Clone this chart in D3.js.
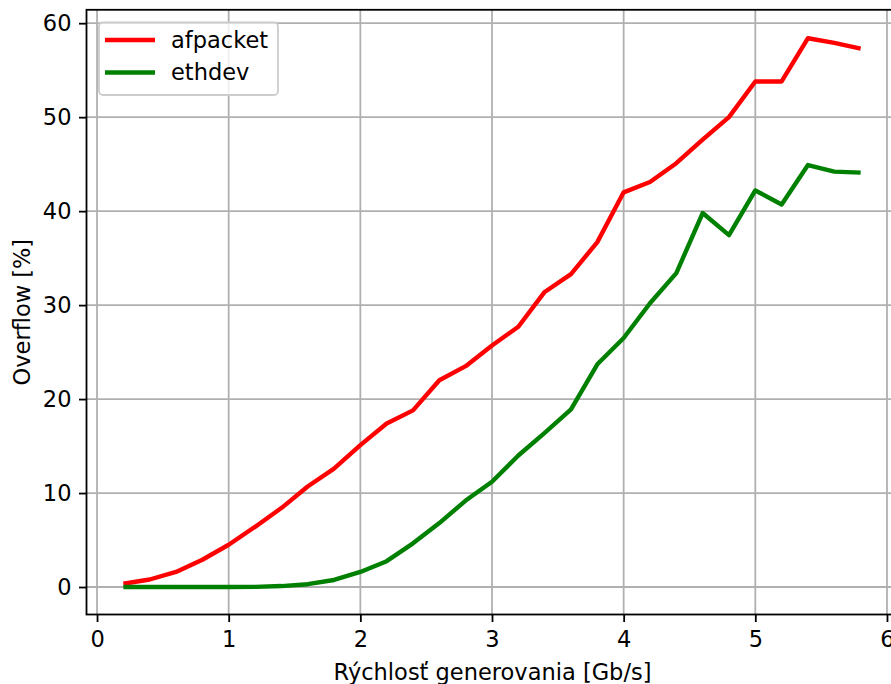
<!DOCTYPE html>
<html><head><meta charset="utf-8">
<script src="https://cdn.jsdelivr.net/npm/d3@7"></script>
<style>body{margin:0;background:#fff}svg{display:block;font-family:"DejaVu Sans",sans-serif}</style>
</head><body><svg id="c" width="891" height="684"></svg>
<script>
const speeds = [0.2,0.4,0.6,0.8,1.0,1.2,1.4,1.6,1.8,2.0,2.2,2.4,2.6,2.8,3.0,3.2,3.4,3.6,3.8,4.0,4.2,4.4,4.6,4.8,5.0,5.2,5.4,5.6,5.8];
const afpacket = [0.35,0.8,1.6,2.9,4.5,6.4,8.4,10.7,12.6,15.1,17.4,18.8,22.0,23.5,25.7,27.7,31.4,33.3,36.7,42.0,43.1,45.1,47.6,50.0,53.8,53.8,58.4,57.9,57.3];
const ethdev = [0,0,0,0,0,0.02,0.1,0.3,0.75,1.6,2.75,4.65,6.8,9.2,11.2,14.0,16.4,18.9,23.7,26.5,30.2,33.4,39.8,37.45,42.2,40.7,44.9,44.2,44.1];
const xTicks = [0,1,2,3,4,5,6];
const yTicks = [0,10,20,30,40,50,60];
const seriesNames = ["afpacket","ethdev"];
const seriesColors = ["#ff0000","#008000"];

const FS = 22.5;
const svg = d3.select("#c");
const L = 86.5, R = 897.5, T = 9.8, B = 614.5;
const x = d3.scaleLinear().domain([-0.08, 6.08]).range([L, R]);
const y = d3.scaleLinear().domain([-2.925, 61.425]).range([B, T]);

// grid
const g = svg.append("g");
g.selectAll(".vx").data(xTicks).join("line")
  .attr("x1", d=>x(d)).attr("x2", d=>x(d)).attr("y1", T).attr("y2", B)
  .attr("stroke", "#b0b0b0").attr("stroke-width", 1.8);
g.selectAll(".hy").data(yTicks).join("line")
  .attr("y1", d=>y(d)).attr("y2", d=>y(d)).attr("x1", L).attr("x2", R)
  .attr("stroke", "#b0b0b0").attr("stroke-width", 1.8);

// lines
const line = d3.line().x((d,i)=>x(speeds[i])).y(d=>y(d));
[afpacket, ethdev].forEach((s,i)=>{
  svg.append("path").datum(s).attr("d", line).attr("fill","none")
    .attr("stroke", seriesColors[i]).attr("stroke-width", 4.4)
    .attr("stroke-linejoin","round").attr("stroke-linecap","butt");
});

// axes
const xAxis = d3.axisBottom(x).tickValues(xTicks).tickFormat(d3.format("d")).tickSize(7.5).tickPadding(9);
const yAxis = d3.axisLeft(y).tickValues(yTicks).tickFormat(d3.format("d")).tickSize(7.5).tickPadding(7.5);
const gx = svg.append("g").attr("transform", `translate(0,${B})`).call(xAxis);
const gy = svg.append("g").attr("transform", `translate(${L},0)`).call(yAxis);
[gx, gy].forEach(a=>{
  a.attr("font-size", FS).attr("font-family","DejaVu Sans");
  a.select(".domain").remove();
  a.selectAll("line").attr("stroke","#000").attr("stroke-width",1.8);
  a.selectAll("text").attr("font-size", FS).attr("fill","#000");
});
// spines
svg.append("rect").attr("x", L).attr("y", T).attr("width", R-L).attr("height", B-T)
  .attr("fill","none").attr("stroke","#000").attr("stroke-width",1.8);

// labels
svg.append("text").attr("x", 492.5).attr("y", 679.5).attr("text-anchor","middle")
  .attr("font-size", FS).text("Rýchlosť generovania [Gb/s]");
svg.append("text").attr("transform", `translate(30,${(T+B)/2}) rotate(-90)`).attr("text-anchor","middle")
  .attr("font-size", FS).text("Overflow [%]");

// legend
const lg = svg.append("g");
lg.append("rect").attr("x", 99).attr("y", 22.5).attr("width", 179).attr("height", 72.5)
  .attr("rx", 4).attr("fill","#fff").attr("fill-opacity",0.8).attr("stroke","#cccccc").attr("stroke-width",1.8);
seriesNames.forEach((n,i)=>{
  const yy = 40 + i*32.5;
  lg.append("line").attr("x1",105).attr("x2",155).attr("y1",yy).attr("y2",yy)
    .attr("stroke", seriesColors[i]).attr("stroke-width",4.4);
  lg.append("text").attr("x",171).attr("y",yy).attr("dy","0.35em").attr("font-size",FS).text(n);
});
</script></body></html>
